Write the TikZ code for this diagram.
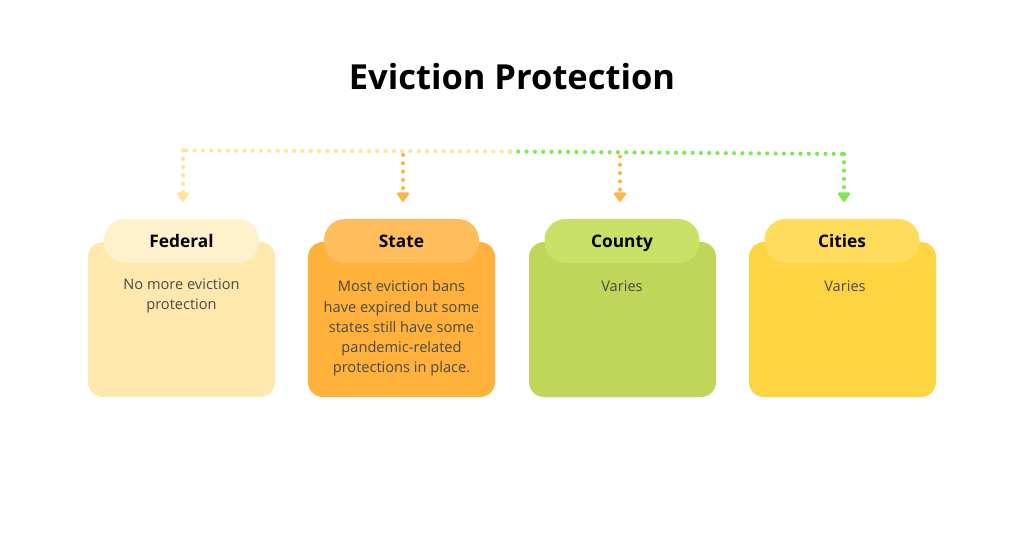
\documentclass[tikz,border=0pt]{standalone}
\usepackage{fontspec}
\setmainfont{Open Sans}
\usetikzlibrary{arrows.meta,calc}
\definecolor{fedbody}{HTML}{FFE8AE}
\definecolor{fedhead}{HTML}{FFF1CB}
\definecolor{stbody}{HTML}{FFB13B}
\definecolor{sthead}{HTML}{FFBE5B}
\definecolor{cobody}{HTML}{BFD65B}
\definecolor{cohead}{HTML}{C9E166}
\definecolor{cibody}{HTML}{FFD443}
\definecolor{cihead}{HTML}{FFDC5C}
\definecolor{lineyel}{HTML}{FFE49A}
\definecolor{lineora}{HTML}{FFB54D}
\definecolor{linegrn}{HTML}{84E654}
\definecolor{bodytext}{HTML}{4A4A42}
\tikzset{
  bodybox/.style={rounded corners=15pt, minimum width=187pt, minimum height=155pt, inner sep=0pt},
  headbox/.style={rounded corners=21pt, minimum width=155pt, minimum height=44pt, inner sep=0pt,
    text height=12.5pt, text depth=0pt,
    font=\fontsize{17.3}{20}\selectfont\bfseries, text=black},
  bodytxt/.style={align=center, text=bodytext, font=\fontsize{14.6}{20.3}\selectfont, anchor=north, inner sep=0pt},
  dotline/.style={line width=4.2pt, line cap=round, dash pattern=on 0pt off 8.3pt},
  tip/.style={-{Triangle[width=14pt,length=10.5pt,round]}, shorten >=17pt}
}
\begin{document}
\begin{tikzpicture}[x=1pt,y=-1pt]
\useasboundingbox (0,0) rectangle (1024,538);
\fill[white] (0,0) rectangle (1024,538);
\node[font=\fontsize{34.5}{40}\selectfont\bfseries] (title) at (512,77) {Eviction Protection};
% bodies
\node[bodybox, fill=fedbody] (fedb) at (181.5,319.5) {};
\node[bodybox, fill=stbody] (stb) at (401.5,319.5) {};
\node[bodybox, fill=cobody] (cob) at (622.5,319.5) {};
\node[bodybox, fill=cibody] (cib) at (842.5,319.5) {};
% headers
\node[headbox, fill=fedhead] (fedh) at (181.5,241) {Federal};
\node[headbox, fill=sthead] (sth) at (401.5,241) {State};
\node[headbox, fill=cohead] (coh) at (622,241) {County};
\node[headbox, fill=cihead] (cih) at (842,241) {Cities};
% body texts
\node[bodytxt] (fedt) at (181.5,278.5) {No more eviction\\protection};
\node[bodytxt] (stt) at (401.5,280.5) {Most eviction bans\\have expired but some\\states still have some\\pandemic-related\\protections in place.};
\node[bodytxt] (cot) at (622,280.5) {Varies};
\node[bodytxt] (cit) at (845,280.5) {Varies};
% connectors
\coordinate (hl) at (183,150.5);
\coordinate (hm) at (510,151.5);
\coordinate (hr) at (844,154);
\coordinate (sttop) at (403,155);
\coordinate (cotop) at (620,156.5);
\draw[dotline, linegrn] (hm) -- (hr);
\draw[dotline, lineyel] (hm) -- (hl);
\draw[dotline, lineyel, tip] (hl) -- (hl |- fedh.north);
\draw[dotline, lineora, tip] (sttop) -- (sttop |- sth.north);
\draw[dotline, lineora, tip] (cotop) -- (cotop |- coh.north);
\draw[dotline, linegrn, tip] (hr) -- (hr |- cih.north);
\end{tikzpicture}
\end{document}
